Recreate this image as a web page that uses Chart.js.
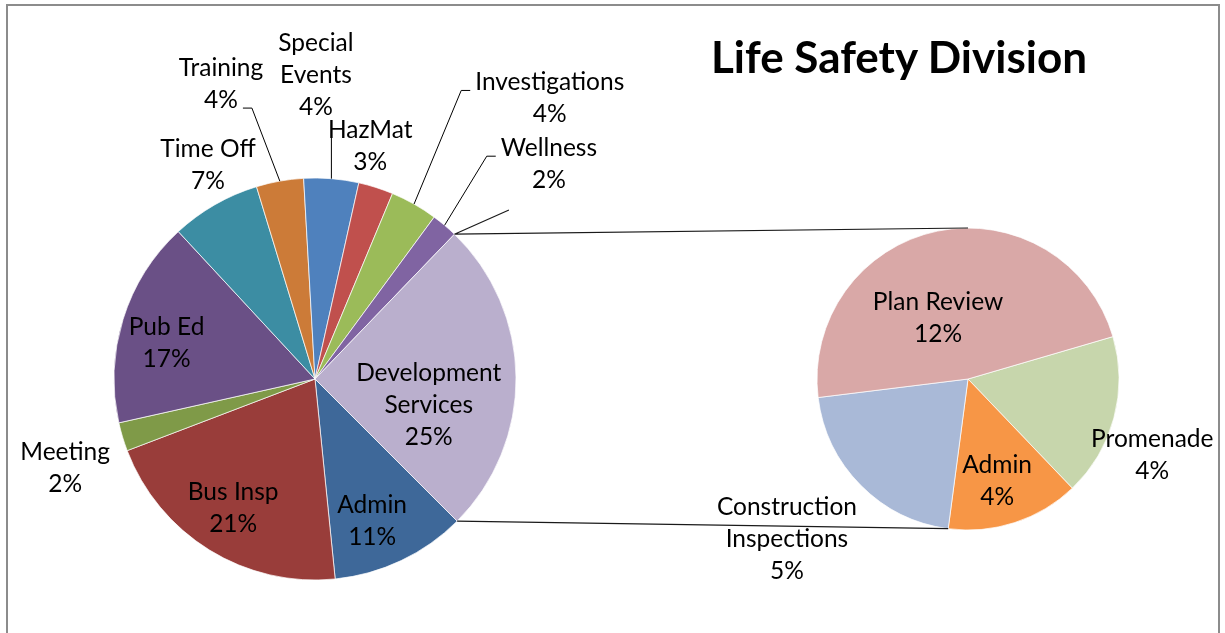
<!DOCTYPE html>
<html>
<head>
<meta charset="utf-8">
<script src="https://cdn.jsdelivr.net/npm/chart.js@4.4.0/dist/chart.umd.min.js"></script>
<style>
  html, body { margin: 0; padding: 0; background: #fff; }
  #wrap { position: relative; width: 1225px; height: 633px; overflow: hidden; background: #fff; }
  #frame { position: absolute; left: 6px; top: 4px; width: 1210px; height: 700px; border: 2px solid #8c8c8c; }
  canvas { position: absolute; left: 0; top: 0; }
  #title { position: absolute; left: 600px; width: 598px; top: 30px; line-height: 44px; text-align: center;
           font: bold 44px Lato, sans-serif; color: #000; }
</style>
</head>
<body>
<div id="wrap">
  <div id="frame"></div>
  <canvas id="mainPie" width="1225" height="633"></canvas>
  <canvas id="subPie" width="1225" height="633"></canvas>
  <div id="title">Life Safety Division</div>
</div>
<script>
// Life Safety Division — pie of pie (Development Services split out)
const MAIN_LABELS = ['Admin', 'Bus Insp', 'Meeting', 'Pub Ed', 'Time Off', 'Training', 'Special\nEvents',
                     'HazMat', 'Investigations', 'Wellness', 'Development\nServices'];
const MAIN_VALUES = [10.9, 20.8, 2.3, 16.6, 7.2, 3.8, 4.4, 2.8, 3.8, 2.1, 25.3];
const SUB_LABELS = ['Promenade', 'Admin', 'Construction\nInspections', 'Plan Review'];
const SUB_VALUES = [4.4, 3.6, 5.3, 12.0];

const MAIN_COLORS = ['#3E6899', '#993D3A', '#7F9A48', '#6A5086', '#3C8DA3', '#CC7B38', '#4F81BD',
                     '#C0504D', '#9BBB59', '#8064A2', '#BAAFCD'];
const SUB_COLORS = ['#C7D6AC', '#F79646', '#A9B9D7', '#D9A8A7'];

// label placement: distance (x radius) and angle shift (deg) from slice middle
const MAIN_DIST  = [0.76, 0.76, 1.32, 0.76, 1.19, 1.54, 1.51, 1.19, 1.82, 1.58, 0.58];
const MAIN_SHIFT = [3.4, 0.7, -2.9, -3.6, 3.3, -7.6, -4.5, -4.3, 10.4, 7.3, 13.3];
const MAIN_LEADER = [-1, -1, -1, -1, -1, 1, 2, -1, 0, 0, -1];   // line of label the leader hooks on
const SUB_DIST  = [1.32, 0.70, 1.60, 0.45];
const SUB_SHIFT = [7.4, 2.1, 3.3, -14.5];
const DEV_INDEX = 10;
const SUB_BOTTOM_INDEX = 1;   // connector meets the secondary pie at the end of this slice

const LABEL_FONT = '24.5px Lato, sans-serif';
const LINE_H = 32;
const TOTAL = MAIN_VALUES.reduce((a, v) => a + v, 0);
const rad = d => d * Math.PI / 180;

function arcProps(arc) { return arc.getProps(['x', 'y', 'startAngle', 'endAngle', 'outerRadius'], true); }
function rim(p, ang, f) { return { x: p.x + Math.cos(ang) * p.outerRadius * (f || 1), y: p.y + Math.sin(ang) * p.outerRadius * (f || 1) }; }

function drawLabels(chart, names, values, dist, shift, leaders) {
  const ctx = chart.ctx;
  const meta = chart.getDatasetMeta(0);
  ctx.save();
  ctx.font = LABEL_FONT;
  ctx.fillStyle = '#000';
  ctx.textAlign = 'center';
  ctx.textBaseline = 'middle';
  meta.data.forEach((arc, i) => {
    const p = arcProps(arc);
    const mid = (p.startAngle + p.endAngle) / 2;
    const c = rim(p, mid + rad(shift[i]), dist[i]);
    const lines = names[i].split('\n').concat(Math.round(values[i] / TOTAL * 100) + '%');
    const h = lines.length * LINE_H;
    const widths = lines.map(l => ctx.measureText(l).width);
    const w = Math.max(...widths);
    lines.forEach((l, k) => ctx.fillText(l, c.x, c.y - h / 2 + LINE_H * (k + 0.5)));

    const li = leaders ? leaders[i] : -1;
    if (li < 0) return;
    const t = rim(p, mid);
    ctx.strokeStyle = '#000';
    ctx.lineWidth = 1;
    ctx.beginPath();
    if (t.x > c.x - w / 2 && t.x < c.x + w / 2) {
      ctx.moveTo(t.x, c.y + h / 2 + 1);
      ctx.lineTo(t.x, t.y);
    } else {
      const side = t.x < c.x ? -1 : 1;
      const ex = c.x + side * (widths[li] / 2 + 5);
      const ey = c.y - h / 2 + LINE_H * (li + 0.5) + 8;
      ctx.moveTo(ex, ey);
      ctx.lineTo(ex + side * 9, ey);
      ctx.lineTo(t.x, t.y);
    }
    ctx.stroke();
  });
  ctx.restore();
}

function pieOptions(rotation, radius, padding) {
  return {
    responsive: false,
    animation: false,
    devicePixelRatio: 1,
    rotation: rotation,
    radius: radius,
    events: [],
    layout: { padding: padding },
    plugins: { legend: { display: false }, tooltip: { enabled: false } }
  };
}

const mainChart = new Chart(document.getElementById('mainPie'), {
  type: 'pie',
  data: {
    labels: MAIN_LABELS,
    datasets: [{ data: MAIN_VALUES, backgroundColor: MAIN_COLORS, borderColor: 'rgba(255,255,255,0.7)', borderWidth: 1 }]
  },
  options: pieOptions(135, 201, { left: 114, right: 709, top: 178, bottom: 53 }),
  plugins: [{
    id: 'mainLabels',
    afterDatasetsDraw(chart) {
      drawLabels(chart, MAIN_LABELS, MAIN_VALUES, MAIN_DIST, MAIN_SHIFT, MAIN_LEADER);
    }
  }]
});

new Chart(document.getElementById('subPie'), {
  type: 'pie',
  data: {
    labels: SUB_LABELS,
    datasets: [{ data: SUB_VALUES, backgroundColor: SUB_COLORS, borderColor: 'rgba(255,255,255,0.7)', borderWidth: 1 }]
  },
  options: pieOptions(73.7, 151, { left: 817, right: 106, top: 228, bottom: 103 }),
  plugins: [{
    id: 'subLabels',
    afterDatasetsDraw(chart) {
      drawLabels(chart, SUB_LABELS, SUB_VALUES, SUB_DIST, SUB_SHIFT, null);
      // connector lines from the Development Services slice to the secondary pie
      const dev = arcProps(mainChart.getDatasetMeta(0).data[DEV_INDEX]);
      const sub = arcProps(chart.getDatasetMeta(0).data[SUB_BOTTOM_INDEX]);
      const ctx = chart.ctx;
      const s = rim(dev, dev.startAngle);
      const e = rim(dev, dev.endAngle);
      const top = rim(sub, -Math.PI / 2);
      const bot = rim(sub, sub.endAngle);
      const stub = rim(dev, dev.startAngle + rad(5), 1.28);
      ctx.save();
      ctx.strokeStyle = '#1a1a1a';
      ctx.lineWidth = 1.2;
      ctx.beginPath();
      ctx.moveTo(s.x, s.y); ctx.lineTo(top.x, top.y);
      ctx.moveTo(e.x, e.y); ctx.lineTo(bot.x, bot.y);
      ctx.moveTo(s.x, s.y); ctx.lineTo(stub.x, stub.y);
      ctx.stroke();
      ctx.restore();
    }
  }]
});
</script>
</body>
</html>
